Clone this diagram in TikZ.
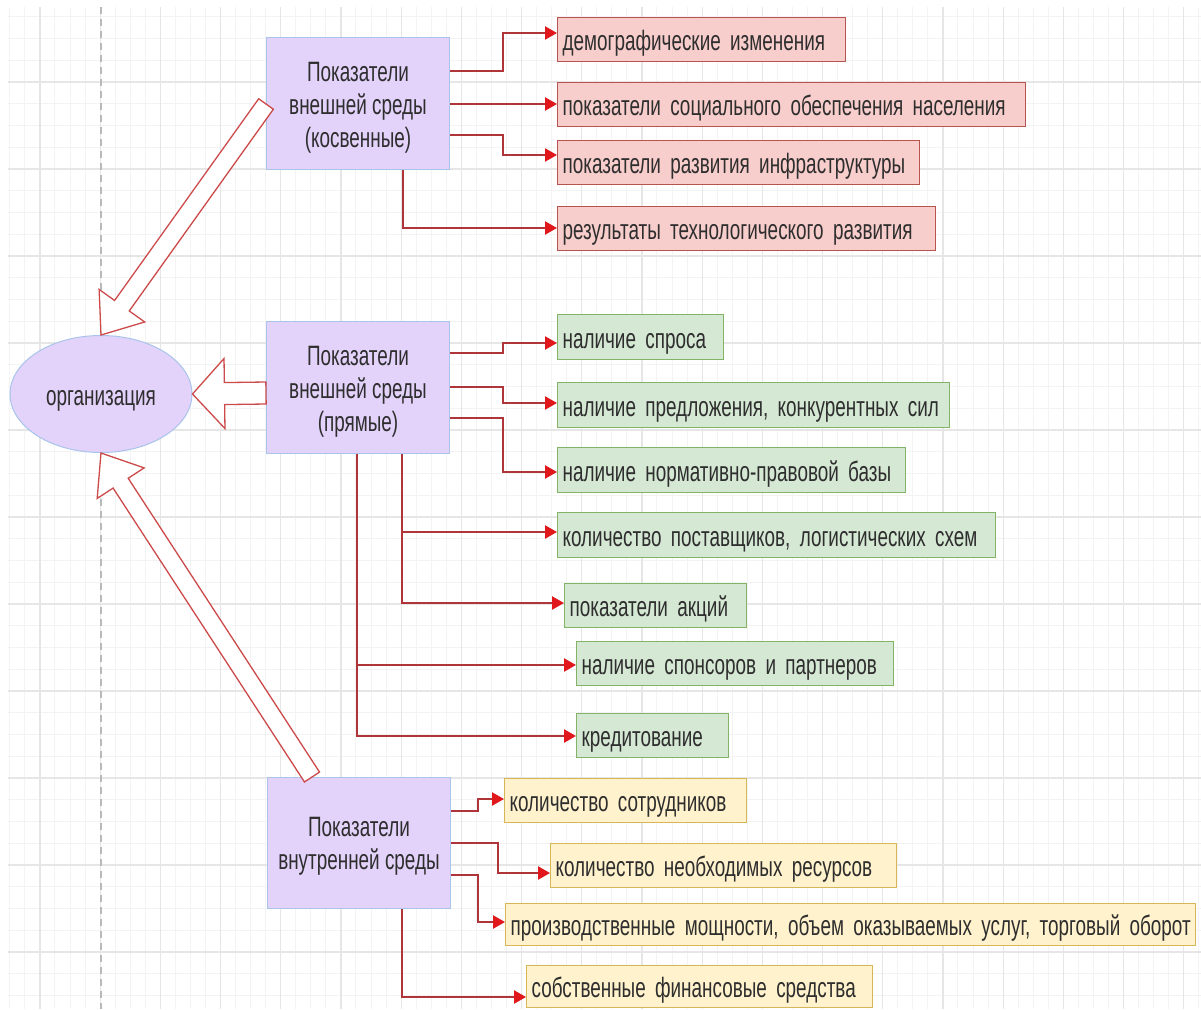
\documentclass[tikz,border=0pt]{standalone}
\usepackage{fontspec}
\setmainfont[FakeStretch=0.675]{Liberation Sans}
\usetikzlibrary{arrows.meta,calc,shapes.geometric}
\definecolor{lav}{HTML}{E3D2FA}
\definecolor{lavb}{HTML}{A9C4EB}
\definecolor{redf}{HTML}{F8CECC}
\definecolor{redb}{HTML}{B85450}
\definecolor{grnf}{HTML}{D5E8D4}
\definecolor{grnb}{HTML}{82B366}
\definecolor{yelf}{HTML}{FFF2CC}
\definecolor{yelb}{HTML}{D6B656}
\definecolor{conn}{HTML}{B0353A}
\definecolor{tipc}{HTML}{E0181B}
\definecolor{txt}{HTML}{2E2E2E}
\definecolor{gmaj}{HTML}{E6E6E6}
\definecolor{gmin}{HTML}{F3F3F3}
\definecolor{barc}{HTML}{CC4A4A}
\newcommand{\blockarr}[5]{%
  \coordinate (bn) at ($(#1)!#3pt!(#2)$);
  \draw[barr] (#1) -- ($(bn)!#4pt!90:(#2)$) -- ($(bn)!#5pt!90:(#2)$)
    -- ($(#2)!#5pt!-90:(#1)$) -- ($(#2)!#5pt!90:(#1)$)
    -- ($(bn)!#5pt!-90:(#2)$) -- ($(bn)!#4pt!-90:(#2)$) -- cycle;}
\begin{document}
\begin{tikzpicture}[x=1pt,y=-1pt,
  font={\fontsize{28}{33}\selectfont},
  item/.style={draw, line width=1.2pt, anchor=north west, inner xsep=5pt,
    inner ysep=0pt, align=left, text=txt, text height=27pt, text depth=5pt},
  ritem/.style={item, fill=redf, draw=redb},
  gitem/.style={item, fill=grnf, draw=grnb},
  yitem/.style={item, fill=yelf, draw=yelb},
  pbox/.style={draw=lavb, fill=lav, line width=1pt, anchor=north west,
    minimum width=183pt},
  ptext/.style={align=center, text=txt, inner sep=0pt},
  link/.style={draw=conn, line width=2.2pt,
    -{Triangle[length=12pt,width=13pt,color=tipc]}},
  barr/.style={draw=barc, line width=1.3pt, fill=white, line join=miter}]
\useasboundingbox (0,0) rectangle (1201,1009);
\fill[white] (0,0) rectangle (1201,1009);
% grid
\begin{scope}
\clip (8,7) rectangle (1201,1009);
\foreach \i in {0,...,80} \draw[gmin, line width=1pt] ({9.8+\i*15.05},0) -- ++(0,1009);
\foreach \j in {0,...,46} \draw[gmin, line width=1pt] (0,{16.75+\j*21.75}) -- ++(1201,0);
\foreach \i in {0,...,19} \draw[gmaj, line width=1.2pt] ({40+\i*60.2},0) -- ++(0,1009);
\foreach \j in {0,...,11} \draw[gmaj, line width=1.2pt] (0,{82+\j*87}) -- ++(1201,0);
\end{scope}
\draw[gray!55, dashed, line width=1.3pt, dash pattern=on 7pt off 5pt] (101,7) -- (101,1009);

% main nodes
\node[ellipse, fill=lav, draw=lavb, line width=1pt, minimum width=182pt,
  minimum height=117pt, text=txt, text height=27pt, text depth=5pt] (org) at (101,394) {организация};
\node[pbox, minimum height=132pt] (p1) at (266,37) {};
\node[ptext] (p1t) at ($(p1.center)+(0,4)$) {Показатели\\внешней среды\\(косвенные)};
\node[pbox, minimum height=132pt] (p2) at (266,321) {};
\node[ptext] (p2t) at ($(p2.center)+(0,4)$) {Показатели\\внешней среды\\(прямые)};
\node[pbox, minimum height=131pt] (p3) at (267,777) {};
\node[ptext] (p3t) at ($(p3.center)+(0,3)$) {Показатели\\внутренней среды};

% red items
\node[ritem, minimum height=44pt, text width=278pt] (r1) at (557,17) {\mbox{демографические изменения}};
\node[ritem, minimum height=44pt, text width=458pt] (r2) at (557,82) {\mbox{показатели социального обеспечения населения}};
\node[ritem, minimum height=44pt, text width=352pt] (r3) at (557,140) {\mbox{показатели развития инфраструктуры}};
\node[ritem, minimum height=44pt, text width=368pt] (r4) at (557,206) {\mbox{результаты технологического развития}};
% green items
\node[gitem, minimum height=45pt, text width=156pt] (g1) at (557,314) {\mbox{наличие спроса}};
\node[gitem, minimum height=45pt, text width=382pt] (g2) at (557,382) {\mbox{наличие предложения, конкурентных сил}};
\node[gitem, minimum height=45pt, text width=338pt] (g3) at (557,447) {\mbox{наличие нормативно-правовой базы}};
\node[gitem, minimum height=45pt, text width=428pt] (g4) at (557,512) {\mbox{количество поставщиков, логистических схем}};
\node[gitem, minimum height=44pt, text width=172pt] (g5) at (564,583) {\mbox{показатели акций}};
\node[gitem, minimum height=44pt, text width=307pt] (g6) at (576,641) {\mbox{наличие спонсоров и партнеров}};
\node[gitem, minimum height=44pt, text width=142pt] (g7) at (576,713) {\mbox{кредитование}};
% yellow items
\node[yitem, minimum height=44pt, text width=232pt] (y1) at (504,778) {\mbox{количество сотрудников}};
\node[yitem, minimum height=44pt, text width=336pt] (y2) at (550,843) {\mbox{количество необходимых ресурсов}};
\node[yitem, minimum height=42pt, text width=680pt] (y3) at (505,903) {\mbox{производственные мощности, объем оказываемых услуг, торговый оборот}};
\node[yitem, minimum height=42pt, text width=336pt] (y4) at (526,965) {\mbox{собственные финансовые средства}};

% connectors group 1
\draw[link] (p1.east |- 0,71) -| (503,33) -- (r1.west |- 0,33);
\draw[link] (p1.east |- 0,104) -- (r2.west |- 0,104);
\draw[link] (p1.east |- 0,135) -| (503,155) -- (r3.west |- 0,155);
\draw[link] (p1.south -| 403,0) |- (r4.west |- 0,228);
% connectors group 2
\draw[link] (p2.east |- 0,353) -| (503,343) -- (g1.west |- 0,343);
\draw[link] (p2.east |- 0,387) -| (503,403) -- (g2.west |- 0,403);
\draw[link] (p2.east |- 0,418) -| (503,472) -- (g3.west |- 0,472);
\draw[link] (p2.south -| 402,0) |- (g4.west |- 0,532);
\draw[link] (p2.south -| 402,0) |- (g5.west |- 0,603);
\draw[link] (p2.south -| 357,0) |- (g6.west |- 0,665);
\draw[link] (p2.south -| 357,0) |- (g7.west |- 0,736);
% connectors group 3
\draw[link] (p3.east |- 0,811) -| (478,799) -- (y1.west |- 0,799);
\draw[link] (p3.east |- 0,843) -| (498,873) -- (y2.west |- 0,873);
\draw[link] (p3.east |- 0,875) -| (478,922) -- (y3.west |- 0,922);
\draw[link] (p3.south -| 402,0) |- (y4.west |- 0,997);

% block arrows to organisation
\coordinate (t1) at (p1.west |- 0,104);
\coordinate (t2) at (p2.west |- 0,393);
\coordinate (t3) at (p3.north -| 312,0);
\blockarr{org.north}{t1}{36}{28}{9}
\blockarr{org.east}{t2}{32}{35}{11}
\blockarr{org.south}{t3}{36}{28}{9}
\end{tikzpicture}
\end{document}
